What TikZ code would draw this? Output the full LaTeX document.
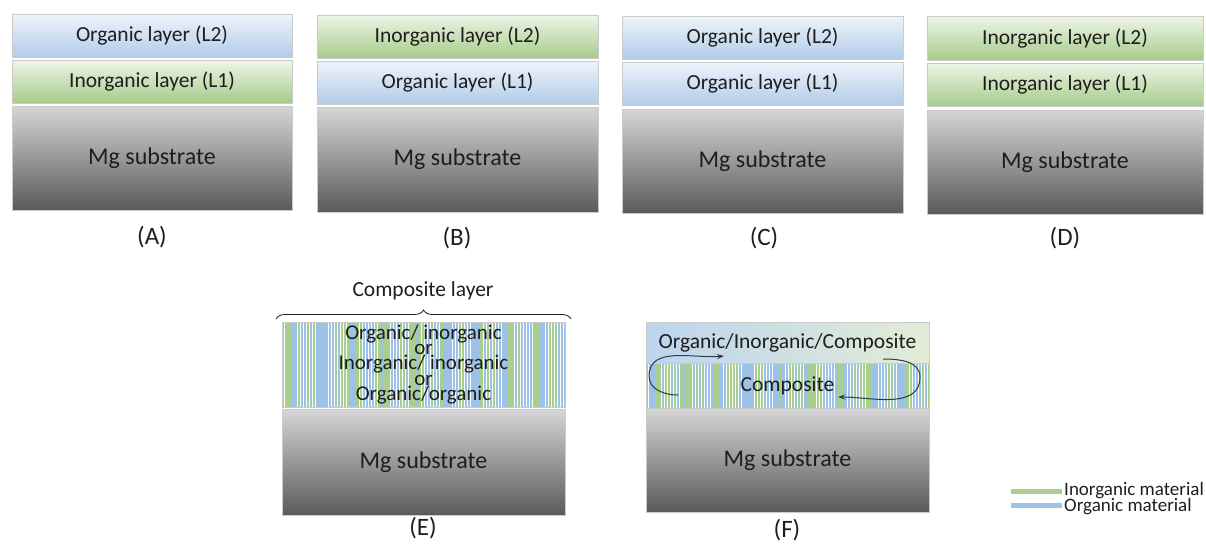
\documentclass[tikz,border=0pt]{standalone}
\usepackage{fontspec}
\setmainfont{Carlito}
\usetikzlibrary{decorations.pathreplacing,arrows.meta}
\definecolor{orgT}{HTML}{EEF4FB}
\definecolor{orgB}{HTML}{B2CCE8}
\definecolor{inoT}{HTML}{EEF5E8}
\definecolor{inoB}{HTML}{A6CB8A}
\definecolor{subT}{HTML}{D6D6D6}
\definecolor{subB}{HTML}{5A5A5A}
\definecolor{edge}{HTML}{CBCBCB}
\definecolor{ink}{HTML}{1E1E1E}
\definecolor{stG}{HTML}{A9CF8E}
\definecolor{stB}{HTML}{9CC2E8}
\definecolor{fL}{HTML}{BCD4EE}
\definecolor{fM}{HTML}{EEF3F9}
\definecolor{fR}{HTML}{E2ECD6}
\definecolor{arr}{HTML}{2E3A48}
\tikzset{
  layer/.style={rectangle, draw=edge, line width=0.8pt, inner sep=0pt, outer sep=0pt,
    text=ink, font=\fontsize{21.5}{24}\selectfont},
  org/.style={layer, top color=orgT, bottom color=orgB},
  inorg/.style={layer, top color=inoT, bottom color=inoB},
  subs/.style={layer, top color=subT, bottom color=subB, font=\fontsize{24}{28}\selectfont},
  caption/.style={text=ink, font=\fontsize{25}{28}\selectfont, inner sep=0pt},
  band/.style={rectangle, draw=edge, line width=0.8pt, inner sep=0pt, outer sep=0pt, text=ink},
  legtext/.style={text=ink, font=\fontsize{19}{22}\selectfont, inner sep=0pt, anchor=west},
  curl/.style={draw=arr, line width=1pt, -{Stealth[length=7pt,width=5pt]}},
}
\newcommand\stripeband[5]{%
  \fill[white] (#1,#3) rectangle (#2,#4);
  \pgfmathtruncatemacro\nstr{(#2-#1)/3.1}%
  \foreach \k in {0,...,\nstr}{%
    \pgfmathsetmacro\xa{#1+\k*3.1}%
    \pgfmathsetmacro\xb{min(\xa+2.4,#2)}%
    \pgfmathtruncatemacro\cc{mod(mod(\k*\k,97)*13+\k*7+#5,11)}%
    \ifnum\cc<5 \def\col{stG}\else\def\col{stB}\fi
    \fill[\col] (\xa,#3) rectangle (\xb,#4);
  }%
}
\begin{document}
\begin{tikzpicture}[x=1pt,y=-1pt]
\useasboundingbox (0,0) rectangle (1206,547);
% (A)
\node[org, minimum width=280, minimum height=43] (a2) at (152,35.5) {Organic layer (L2)};
\node[inorg, minimum width=280, minimum height=43] (a1) at (152,81.5) {Inorganic layer (L1)};
\node[subs, minimum width=280, minimum height=104] (as) at (152,158) {Mg substrate};
\node[caption] (al) at (152,237) {(A)};
% (B)
\node[inorg, minimum width=281, minimum height=43] (b2) at (457.5,36.5) {Inorganic layer (L2)};
\node[org, minimum width=281, minimum height=43] (b1) at (457.5,82.5) {Organic layer (L1)};
\node[subs, minimum width=281, minimum height=105] (bs) at (457.5,159.5) {Mg substrate};
\node[caption] (bl) at (457,238) {(B)};
% (C)
\node[org, minimum width=281, minimum height=43] (c2) at (762.5,37.5) {Organic layer (L2)};
\node[org, minimum width=281, minimum height=43] (c1) at (762.5,83.5) {Organic layer (L1)};
\node[subs, minimum width=281, minimum height=104] (cs) at (762.5,161) {Mg substrate};
\node[caption] (cl) at (764,238) {(C)};
% (D)
\node[inorg, minimum width=276, minimum height=44] (d2) at (1065,38) {Inorganic layer (L2)};
\node[inorg, minimum width=276, minimum height=43] (d1) at (1065,84.5) {Inorganic layer (L1)};
\node[subs, minimum width=276, minimum height=104] (ds) at (1065,162) {Mg substrate};
\node[caption] (dl) at (1065,238) {(D)};
% (E)
\stripeband{282}{565}{322}{407}{3}
\node[band, minimum width=283, minimum height=85, align=center,
  font=\fontsize{21}{15.2}\selectfont] (ec) at (423.5,364.5)
  {Organic/ inorganic\\or\\Inorganic/ inorganic\\or\\Organic/organic};
\node[subs, minimum width=283, minimum height=106] (es) at (423.5,462) {Mg substrate};
\coordinate (brl) at (276,319);
\coordinate (brr) at (571,319);
\draw[draw=ink, line width=0.8pt, decorate, decoration={brace, amplitude=9pt}] (brl) -- (brr);
\node[caption, font=\fontsize{21.5}{24}\selectfont] (et) at (423,291) {Composite layer};
\node[caption] (el) at (423,528) {(E)};
% (F)
\node[band, minimum width=283, minimum height=41, left color=fL, middle color=fM, right color=fR,
  font=\fontsize{21.5}{24}\selectfont] (ft) at (787.5,342.5) {Organic/Inorganic/Composite};
\stripeband{646}{929}{363}{408}{8}
\node[band, minimum width=283, minimum height=45, font=\fontsize{21.5}{24}\selectfont] (fc) at (787.5,385.5) {Composite};
\node[subs, minimum width=283, minimum height=104] (fs) at (787.5,460) {Mg substrate};
\node[caption] (fl) at (787,530) {(F)};
\coordinate (lp0) at (678,395);
\coordinate (lp1) at (649,376);
\coordinate (lp2) at (724,356);
\coordinate (rp0) at (883,359);
\coordinate (rp1) at (920,377);
\coordinate (rp2) at (838,397);
\draw[curl] (lp0) to[out=180,in=270] (lp1) to[out=90,in=185] (lp2);
\draw[curl] (rp0) to[out=0,in=90] (rp1) to[out=270,in=0] (rp2);
% legend
\fill[stG] (1011,489) rectangle (1062,494);
\fill[stB] (1011,503) rectangle (1062,508);
\node[legtext] (li) at (1064,491) {Inorganic material};
\node[legtext] (lo) at (1064,507) {Organic material};
\end{tikzpicture}
\end{document}
